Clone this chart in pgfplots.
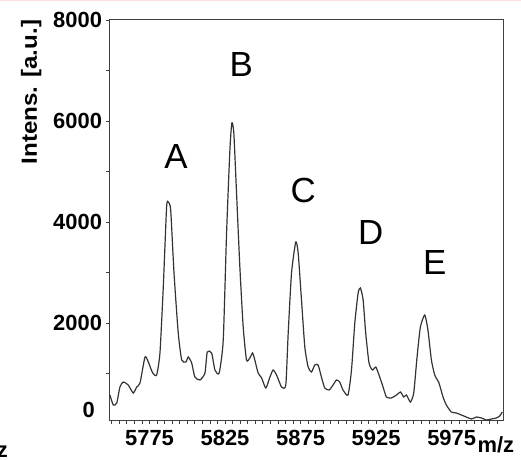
\documentclass[border=0pt]{standalone}
\usepackage{pgfplots}
\pgfplotsset{compat=1.18}
\usepackage{fontspec}
\setmainfont{Liberation Sans}
\usepackage{graphicx}
\begin{document}
\begin{tikzpicture}
\path[use as bounding box] (0,0) rectangle (521bp,460bp);
\fill[red!12] (0,458.5bp) rectangle (521bp,460bp);
\node[anchor=base east, inner sep=0, font=\fontsize{22}{26}\selectfont\bfseries] at (8bp,3bp) {z};
\begin{axis}[
  scale only axis, width=393.5bp, height=400bp,
  at={(109.5bp,40bp)}, anchor=south west,
  xmin=5748.5, xmax=6009, ymin=80, ymax=8000,
  axis line style={draw=black!75, line width=1bp},
  xtick={5775,5825,5875,5925,5975}, xticklabels={5775,5825,5875,5925,5975},
  minor xtick={5750,5755,...,6005},
  ytick={2000,4000,6000,8000}, yticklabels={2000,4000,6000,8000},
  minor ytick={1000,3000,5000,7000},
  tick align=outside, tick pos=left,
  major tick length=4bp, minor tick length=4bp,
  tick style={black!75, line width=0.8bp},
  ticklabel style={font=\fontsize{22}{26}\selectfont\bfseries},
  xticklabel style={yshift=-3bp},
  xlabel={m/z},
  xlabel style={at={(rel axis cs:0.935,-0.08)}, anchor=base west, inner sep=0, font=\fontsize{22}{26}\selectfont\bfseries},
  ylabel={\scalebox{1.1}[1]{Intens. [a.u.]}},
  ylabel style={at={(rel axis cs:-0.199,0.82)}, anchor=center, inner sep=0, font=\fontsize{22}{26}\selectfont\bfseries},
  clip=false,
]
\addplot[black!80, line width=1.2bp, smooth, tension=0.35] coordinates {
(5748.8,575) (5751.0,377) (5753.3,417) (5755.4,733) (5757.6,832) (5760.9,773)
(5764.2,615) (5766.5,733) (5768.7,813) (5772.0,1327) (5774.2,1228) (5777.1,1011)
(5779.7,971) (5781.9,1407) (5784.1,2713) (5786.3,4297) (5787.4,4396) (5789.0,4238)
(5791.2,2991) (5794.0,1803) (5796.3,1268) (5799.1,1228) (5800.6,1327) (5802.9,1209)
(5805.0,931) (5808.4,872) (5811.7,1011) (5813.2,1426) (5816.1,1407) (5818.3,1070)
(5821.1,1011) (5823.8,1664) (5826.0,3783) (5828.2,5426) (5829.5,5961) (5830.8,5763)
(5832.6,4575) (5834.8,3109) (5837.0,1921) (5839.2,1268) (5841.4,1308) (5843.2,1407)
(5844.7,1268) (5846.9,1011) (5849.2,912) (5852.0,714) (5854.7,931) (5856.8,1070)
(5859.1,971) (5862.4,733) (5865.2,773) (5866.8,1803) (5869.0,2991) (5871.8,3604)
(5873.4,3387) (5875.6,2456) (5877.8,1525) (5880.0,1129) (5882.2,1030) (5884.4,1169)
(5886.6,1169) (5888.8,931) (5891.0,714) (5893.9,674) (5896.5,773) (5898.8,872)
(5900.9,832) (5903.1,674) (5906.4,575) (5908.7,1070) (5910.9,2001) (5913.1,2595)
(5914.6,2694) (5916.4,2456) (5918.1,1803) (5920.3,1209) (5922.6,1070) (5924.8,1129)
(5926.9,971) (5929.2,773) (5931.8,535) (5935.1,516) (5938.5,575) (5941.1,634)
(5943.3,535) (5945.1,575) (5947.7,436) (5949.9,615) (5952.1,1327) (5954.3,1921)
(5957.2,2159) (5959.3,1862) (5961.6,1268) (5963.8,971) (5966.6,813) (5969.3,535)
(5971.5,377) (5974.8,238) (5978.1,219) (5981.4,179) (5984.7,139) (5988.1,100)
(5991.4,139) (5994.7,120) (5998.0,80) (6001.3,100) (6004.6,120) (6006.8,159)
(6008.5,238)
};
\node[anchor=base, inner sep=0, font=\fontsize{35}{40}\selectfont] at (axis cs:5792.5,5064) {A};
\node[anchor=base, inner sep=0, font=\fontsize{35}{40}\selectfont] at (axis cs:5835.7,6877) {B};
\node[anchor=base, inner sep=0, font=\fontsize{35}{40}\selectfont] at (axis cs:5876.7,4377) {C};
\node[anchor=base, inner sep=0, font=\fontsize{35}{40}\selectfont] at (axis cs:5921.5,3545) {D};
\node[anchor=base, inner sep=0, font=\fontsize{35}{40}\selectfont] at (axis cs:5963.8,2951) {E};
\node[anchor=east, inner sep=0, xshift=-14.5bp, font=\fontsize{22}{26}\selectfont\bfseries] at (axis cs:5748.5,278) {0};
\end{axis}
\end{tikzpicture}
\end{document}
